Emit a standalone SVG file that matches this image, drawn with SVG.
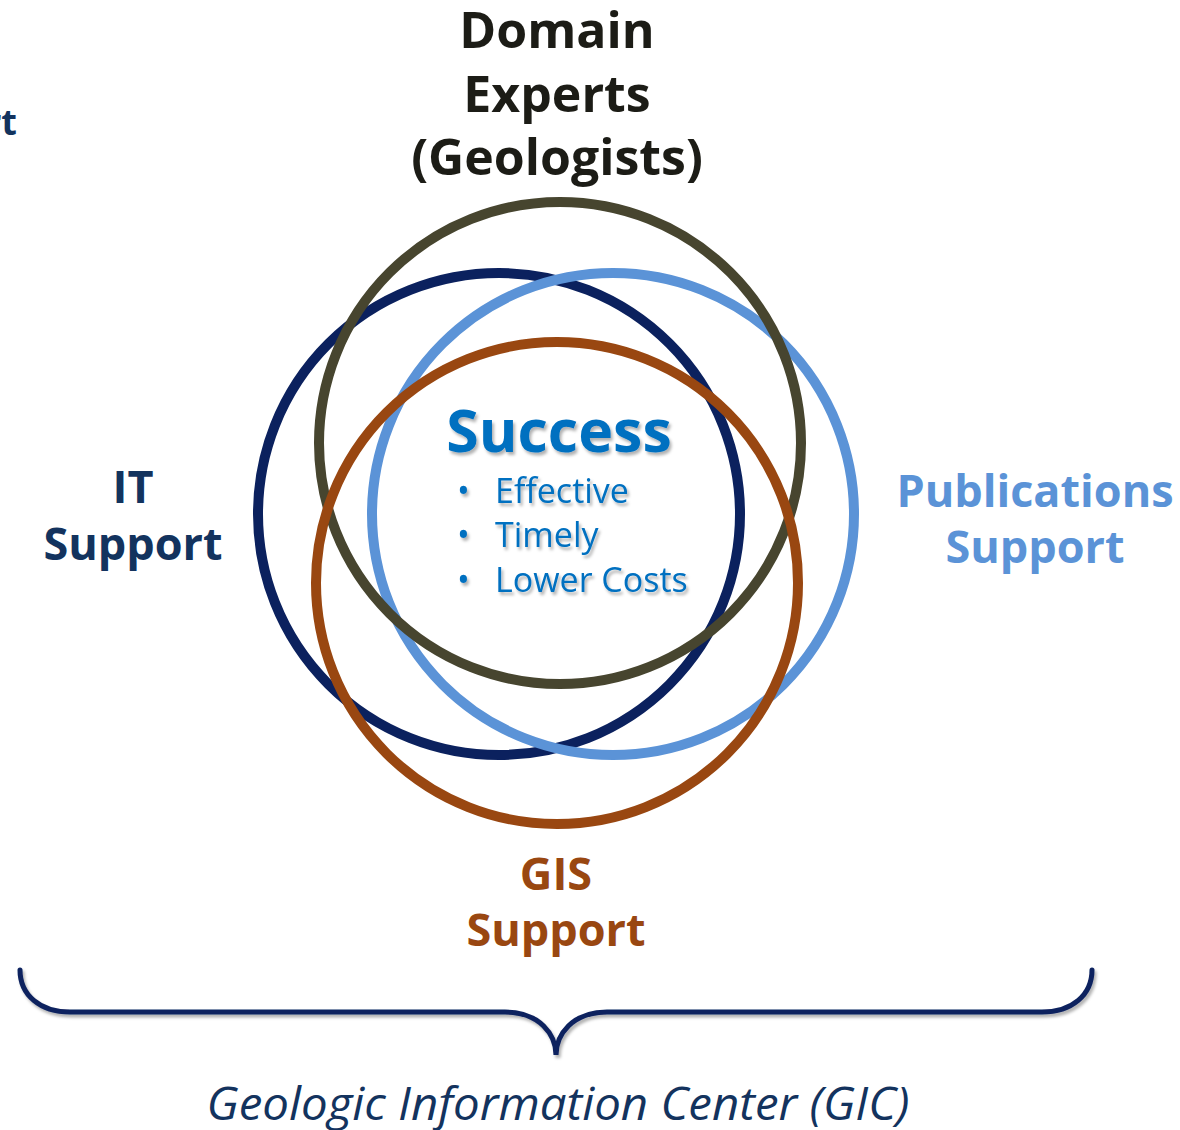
<svg xmlns="http://www.w3.org/2000/svg" width="1180" height="1130" viewBox="0 0 1180 1130">
<style>
.t{font-family:"Open Sans","Noto Sans","Liberation Sans",sans-serif;text-anchor:middle}
.b{font-weight:bold}
.ring{fill:none;stroke-width:10}
.s{fill:#0070c0}
</style>
<defs>
<filter id="sh" x="-10%" y="-10%" width="130%" height="140%">
<feDropShadow dx="2" dy="3" stdDeviation="1.5" flood-color="#000" flood-opacity="0.3"/>
</filter>
</defs>
<rect width="1180" height="1130" fill="#fff"/>
<g id="circles">
<circle id="it-ring" class="ring" cx="499" cy="514" r="241" stroke="#0b215e"/>
<circle id="pub-ring" class="ring" cx="613" cy="514" r="241" stroke="#5b93d7"/>
<circle id="domain-ring" class="ring" cx="560" cy="443" r="241" stroke="#47452f"/>
<circle id="gis-ring" class="ring" cx="557" cy="583" r="241" stroke="#994711"/>
</g>
<g id="domain"><text class="t b" font-size="50" fill="#1c1c16"><tspan x="557" y="48">Domain</tspan><tspan x="557" y="112">Experts</tspan><tspan x="557" y="175">(Geologists)</tspan></text></g>
<g id="it"><text class="t b" font-size="45" fill="#13335e"><tspan x="133" y="503">IT</tspan><tspan x="133" y="560">Support</tspan></text></g>
<g id="pub"><text class="t b" font-size="45" fill="#5b93d7"><tspan x="1035" y="507">Publications</tspan><tspan x="1035" y="563">Support</tspan></text></g>
<g id="gis"><text class="t b" font-size="45" fill="#994711"><tspan x="556" y="890">GIS</tspan><tspan x="556" y="946">Support</tspan></text></g>
<g id="partial"><text class="t b" font-size="36" fill="#13335e" style="text-anchor:end" x="17" y="135">rt</text></g>
<g id="success" filter="url(#sh)">
<text class="t b s" font-size="59" x="559" y="452">Success</text>
<g class="s" font-family="Open Sans,Noto Sans,sans-serif" font-size="34">
<text x="457" y="503">•</text><text x="495" y="503">Effective</text>
<text x="457" y="547">•</text><text x="495" y="547">Timely</text>
<text x="457" y="592">•</text><text x="495" y="592">Lower Costs</text>
</g>
</g>
<g id="connectors">
<path id="brace" filter="url(#sh)" d="M20,970 C20,995 40,1012 70,1012 L505,1012 C540,1012 556,1035 556,1055 C556,1035 572,1012 607,1012 L1042,1012 C1072,1012 1092,995 1092,970" fill="none" stroke="#0b215e" stroke-width="5" stroke-linecap="round"/>
</g>
<g id="gic"><text class="t" font-size="46" font-style="italic" fill="#13335e" x="558" y="1120" textLength="703" lengthAdjust="spacingAndGlyphs">Geologic Information Center (GIC)</text></g>
</svg>
